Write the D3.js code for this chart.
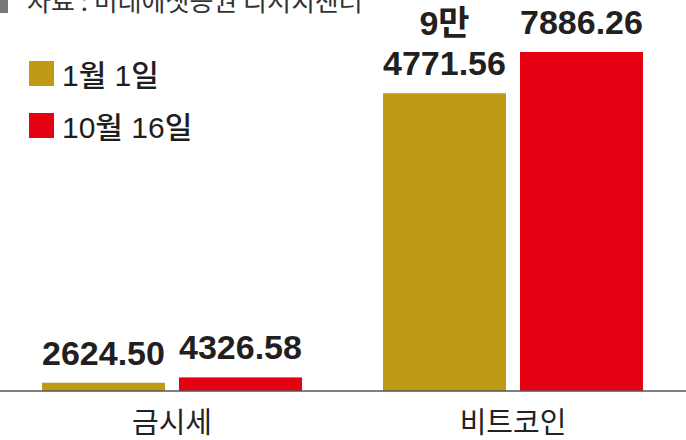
<!DOCTYPE html>
<html><head><meta charset="utf-8">
<script src="https://cdn.jsdelivr.net/npm/d3@7"></script>
<style>
html,body{margin:0;padding:0;background:#fff;}
svg{display:block;}
</style></head>
<body>
<svg id="c" width="686" height="440"></svg>
<script>
const categories = ["금시세", "비트코인"];
const seriesNames = ["1월 1일", "10월 16일"];
const valuesJan1 = [2624.50, 94771.56];
const valuesOct16 = [4326.58, 107886.26];
const labelsJan1 = [["2624.50"], ["9만", "4771.56"]];
const labelsOct16 = [["4326.58"], ["10만", "7886.26"]];
const colors = ["#BE9A17", "#E50012"];
const sourceText = "자료 : 미래에셋증권 리서치센터";

const W = 686, H = 440;
const svg = d3.select("#c");
const FONT = "'Liberation Sans','Noto Sans CJK KR',Arial,sans-serif";
const KFONT = "'Noto Sans CJK KR','Liberation Sans',sans-serif";

const data = categories.map((c, i) => ({
  cat: c,
  vals: [
    {s: seriesNames[0], v: valuesJan1[i], lab: labelsJan1[i], col: colors[0]},
    {s: seriesNames[1], v: valuesOct16[i], lab: labelsOct16[i], col: colors[1]}
  ]
}));

const baseY = 391;
const y = d3.scaleLinear().domain([0, 107886.26]).range([baseY, 52]);
const x0 = d3.scaleBand().domain(categories).range([1.5, 683.5]).paddingInner(0.2375).paddingOuter(0.1188);
const x1 = d3.scaleBand().domain(seriesNames).range([0, x0.bandwidth()]).paddingInner(14/137).paddingOuter(0);

// source line
svg.append("rect").attr("x", 0).attr("y", 0).attr("width", 8).attr("height", 13).attr("fill", "#777");
svg.append("text").attr("x", 27).attr("y", 11).attr("font-family", KFONT).attr("font-size", 26)
  .attr("fill", "#333").text(sourceText);

// legend
const lg = svg.append("g");
seriesNames.forEach((s, i) => {
  const yy = 61 + i * 52;
  lg.append("rect").attr("x", 29).attr("y", yy).attr("width", 25).attr("height", 25).attr("fill", colors[i]);
  lg.append("text").attr("x", 62).attr("y", yy + 25).attr("font-family", FONT).attr("font-size", 30)
    .attr("font-weight", 500).attr("fill", "#1e1e1e").text(s);
});

// bars
const g = svg.selectAll("g.grp").data(data).join("g").attr("class", "grp")
  .attr("transform", d => `translate(${x0(d.cat)},0)`);
g.selectAll("rect").data(d => d.vals).join("rect")
  .attr("x", d => x1(d.s)).attr("width", x1.bandwidth())
  .attr("y", d => y(d.v)).attr("height", d => baseY - y(d.v))
  .attr("fill", d => d.col);

// value labels
g.selectAll("text.val").data(d => d.vals).join("text").attr("class", "val")
  .attr("x", d => x1(d.s) + x1.bandwidth() / 2)
  .attr("text-anchor", "middle")
  .attr("font-family", FONT).attr("font-size", 34).attr("font-weight", "bold").attr("fill", "#231f20")
  .each(function(d) {
    const t = d3.select(this);
    const n = d.lab.length;
    const last = y(d.v) - 18;
    d.lab.forEach((l, k) => {
      t.append("tspan").attr("x", x1(d.s) + x1.bandwidth() / 2)
        .attr("y", last - (n - 1 - k) * 40).text(l);
    });
  });

// axis
const ax = svg.append("g").attr("transform", `translate(0,${baseY})`)
  .call(d3.axisBottom(x0).tickSize(0).tickPadding(16));
ax.select(".domain").attr("d", `M0,0H${W}`).attr("stroke", "#555").attr("stroke-width", 1.5);
ax.selectAll(".tick text").attr("font-family", KFONT).attr("font-size", 29).attr("fill", "#222")
  .attr("dy", "0.9em");
</script>
</body></html>
